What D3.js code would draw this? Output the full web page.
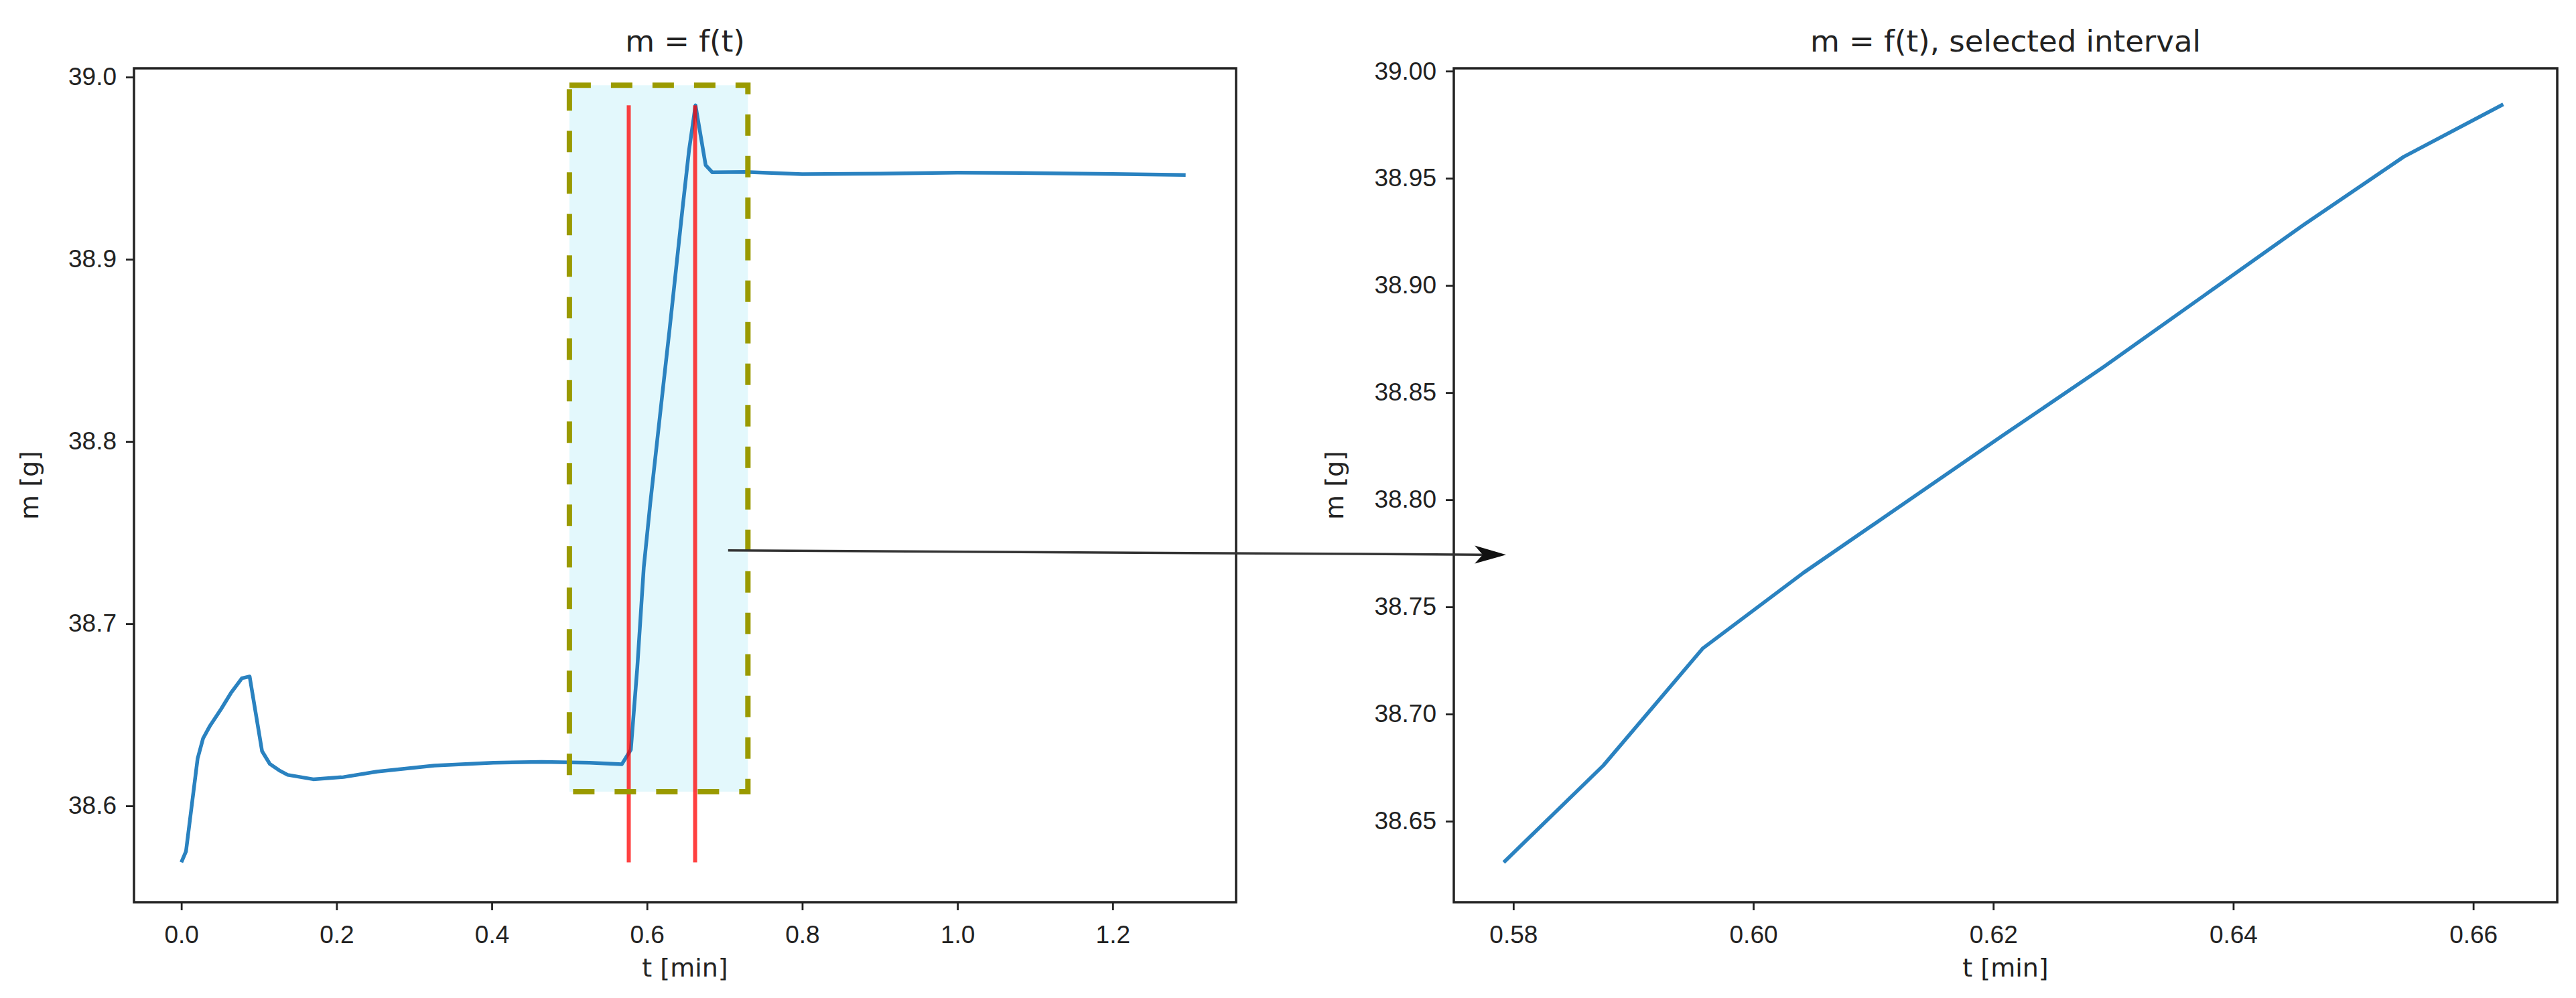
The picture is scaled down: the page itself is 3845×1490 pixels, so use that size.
<!DOCTYPE html>
<html>
  <head>
    <meta charset="utf-8">
    <title>m = f(t)</title>
    <script src="https://d3js.org/d3.v7.min.js"></script>
    <style>
      body { margin: 0; background: #fff; }
      svg { display: block; font-family: "DejaVu Sans", sans-serif; }
    </style>
  </head>
  <body>
    <svg></svg>
    <script>
      // mass reading before the selected interval
      var beforeT = [0.000, 0.006, 0.021, 0.028, 0.037, 0.051, 0.064, 0.078, 0.088, 0.104, 0.114, 0.126,
                     0.137, 0.170, 0.209, 0.252, 0.326, 0.402, 0.464, 0.526, 0.5675];
      var beforeM = [38.569, 38.575, 38.626, 38.637, 38.644, 38.653, 38.662, 38.670, 38.671, 38.630, 38.623, 38.6195,
                     38.617, 38.6146, 38.6158, 38.6188, 38.6221, 38.6237, 38.6241, 38.6237, 38.6228];
      // selected interval (shown again on the right)
      var selT = [0.5792, 0.5875, 0.5958, 0.6042, 0.6125, 0.6208, 0.6292, 0.6375, 0.6458, 0.6542, 0.6625];
      var selM = [38.6308, 38.676, 38.7307, 38.766, 38.798, 38.830, 38.862, 38.895, 38.928, 38.960, 38.9845];
      // after the interval
      var afterT = [0.6756, 0.6842, 0.727, 0.80, 0.90, 1.00, 1.10, 1.20, 1.294];
      var afterM = [38.9516, 38.9477, 38.9479, 38.9467, 38.9470, 38.9475, 38.9473, 38.9468, 38.9463];

      var redLineT = [0.5765, 0.662];
      var boxT = [0.50, 0.73];
      var boxM = [38.6078, 38.9955];

      var leftXTicks = [0.0, 0.2, 0.4, 0.6, 0.8, 1.0, 1.2];
      var leftYTicks = [38.6, 38.7, 38.8, 38.9, 39.0];
      var rightXTicks = [0.58, 0.60, 0.62, 0.64, 0.66];
      var rightYTicks = [38.65, 38.70, 38.75, 38.80, 38.85, 38.90, 38.95, 39.00];

      // arrow: from a point of the left axes to a point of the right axes
      var arrowFrom = [0.7045, 38.7402];
      var arrowTo = [0.5794, 38.7743];

      var allT = beforeT.concat(selT, afterT);
      var allM = beforeM.concat(selM, afterM);

      var W = 3845, H = 1490;
      var ink = "#222";
      var blue = "#2a82c0";
      var svg = d3.select("svg").attr("width", W).attr("height", H);

      function panel(box, xDom, yDom, xTicks, yTicks, xFmt, yFmt, title) {
        var x = d3.scaleLinear().domain(xDom).range([box.left, box.right]);
        var y = d3.scaleLinear().domain(yDom).range([box.bottom, box.top]);
        var g = svg.append("g");
        var marks = g.append("g");

        var xa = g.append("g")
          .attr("transform", "translate(0," + box.bottom + ")")
          .call(d3.axisBottom(x).tickValues(xTicks).tickFormat(d3.format(xFmt)).tickSize(12).tickPadding(14));
        var ya = g.append("g")
          .attr("transform", "translate(" + box.left + ",0)")
          .call(d3.axisLeft(y).tickValues(yTicks).tickFormat(d3.format(yFmt)).tickSize(12).tickPadding(14));
        [xa, ya].forEach(function(a) {
          a.select(".domain").remove();
          a.selectAll("line").attr("stroke", ink).attr("stroke-width", 2.8);
          a.selectAll("text").attr("fill", ink).style("font-size", "37px");
        });
        xa.selectAll("text").attr("dy", "0.95em");

        g.append("rect")
          .attr("x", box.left).attr("y", box.top)
          .attr("width", box.right - box.left).attr("height", box.bottom - box.top)
          .attr("fill", "none").attr("stroke", ink).attr("stroke-width", 3.5);

        g.append("text")
          .attr("x", (box.left + box.right) / 2).attr("y", 77)
          .attr("text-anchor", "middle").attr("fill", ink)
          .style("font-size", "45px").text(title);
        g.append("text")
          .attr("x", (box.left + box.right) / 2).attr("y", 1458)
          .attr("text-anchor", "middle").attr("fill", ink)
          .style("font-size", "38px").text("t [min]");
        g.append("text")
          .attr("transform", "translate(" + box.ylab + "," + (box.top + box.bottom) / 2 + ") rotate(-90)")
          .attr("text-anchor", "middle").attr("fill", ink)
          .style("font-size", "38px").text("m [g]");

        return { x: x, y: y, marks: marks };
      }

      var left = panel({ left: 200, right: 1845, top: 102, bottom: 1347, ylab: 57 },
        [-0.061, 1.359], [38.5471, 39.0048], leftXTicks, leftYTicks, ".1f", ".1f", "m = f(t)");
      var right = panel({ left: 2170, right: 3817, top: 102, bottom: 1347, ylab: 2005 },
        [0.57504, 0.6670], [38.6122, 39.0013], rightXTicks, rightYTicks, ".2f", ".2f", "m = f(t), selected interval");

      // selection box fill
      left.marks.append("rect")
        .attr("x", left.x(boxT[0])).attr("y", left.y(boxM[1]))
        .attr("width", left.x(boxT[1]) - left.x(boxT[0]))
        .attr("height", left.y(boxM[0]) - left.y(boxM[1]))
        .attr("fill", "#e3f8fc");

      var line = function(sc) {
        return d3.line().x(function(d) { return sc.x(d[0]); }).y(function(d) { return sc.y(d[1]); });
      };

      left.marks.append("path")
        .datum(d3.zip(allT, allM))
        .attr("d", line(left))
        .attr("fill", "none").attr("stroke", blue).attr("stroke-width", 5.5)
        .attr("stroke-linejoin", "round");

      var mExt = d3.extent(allM);
      left.marks.selectAll(".red")
        .data(redLineT)
        .enter().append("line")
          .attr("x1", function(d) { return left.x(d); })
          .attr("x2", function(d) { return left.x(d); })
          .attr("y1", left.y(mExt[0]))
          .attr("y2", left.y(mExt[1]))
          .attr("stroke", "red").attr("stroke-opacity", 0.75).attr("stroke-width", 6);

      left.marks.append("rect")
        .attr("x", left.x(boxT[0])).attr("y", left.y(boxM[1]))
        .attr("width", left.x(boxT[1]) - left.x(boxT[0]))
        .attr("height", left.y(boxM[0]) - left.y(boxM[1]))
        .attr("fill", "none").attr("stroke", "#9a9a00").attr("stroke-width", 8)
        .attr("stroke-dasharray", "32,30");

      right.marks.append("path")
        .datum(d3.zip(selT, selM))
        .attr("d", line(right))
        .attr("fill", "none").attr("stroke", blue).attr("stroke-width", 5.5)
        .attr("stroke-linejoin", "round");

      // arrow between the two axes
      var x0 = left.x(arrowFrom[0]), y0 = left.y(arrowFrom[1]);
      var x1 = right.x(arrowTo[0]), y1 = right.y(arrowTo[1]);
      var ang = Math.atan2(y1 - y0, x1 - x0);
      var headLen = 47, headW = 13.5, notch = 35;
      function pt(along, across) {
        return [x1 - along * Math.cos(ang) - across * Math.sin(ang),
                y1 - along * Math.sin(ang) + across * Math.cos(ang)];
      }
      var n = pt(notch, 0);
      svg.append("line")
        .attr("x1", x0).attr("y1", y0).attr("x2", n[0]).attr("y2", n[1])
        .attr("stroke", "#333").attr("stroke-width", 3.5);
      svg.append("path")
        .attr("d", "M" + [x1, y1] + "L" + pt(headLen, -headW) + "L" + n + "L" + pt(headLen, headW) + "Z")
        .attr("fill", "#111");
    </script>
  </body>
</html>
